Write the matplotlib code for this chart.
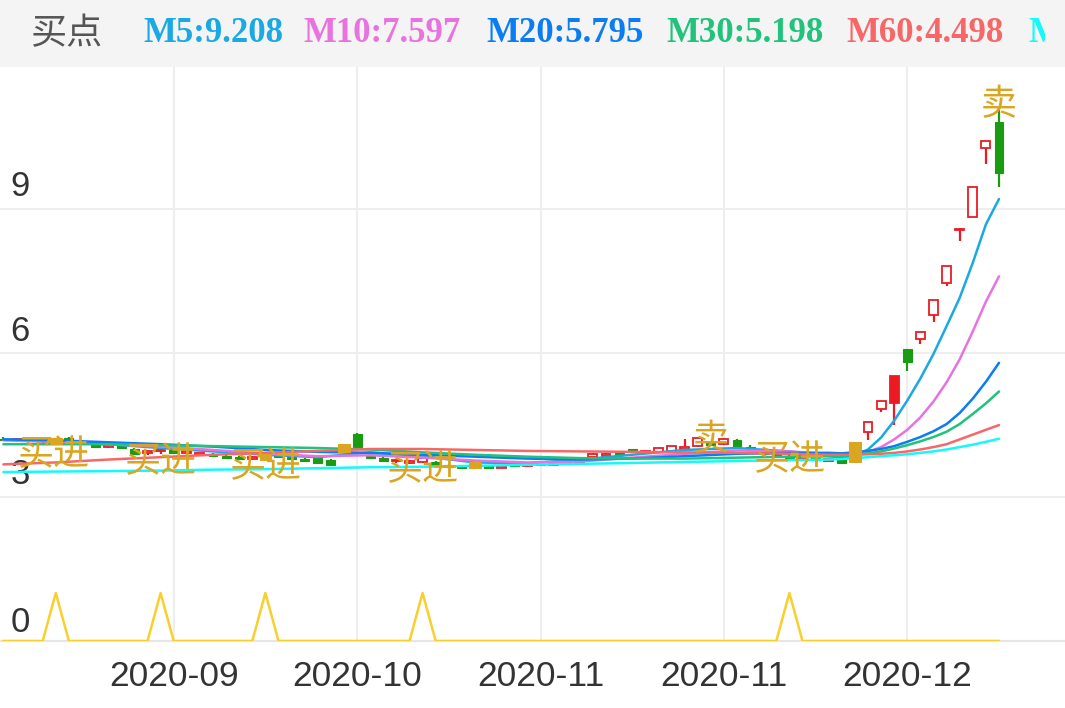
import matplotlib.pyplot as plt
from matplotlib.patches import Rectangle
from matplotlib.transforms import blended_transform_factory

plt.rcParams['font.family'] = ['Liberation Sans', 'Noto Sans CJK SC', 'DejaVu Sans']

# K线数据 (开, 高, 低, 收)
opens = [4.20, 4.18, 4.20, 4.17, 4.10, 4.22, 4.14, 4.12, 4.05, 4.08,
         4.00, 3.92, 3.95, 3.97, 3.92, 3.88, 3.90, 3.86, 3.84, 3.80,
         3.77, 3.90, 3.84, 3.80, 3.81, 3.77, 3.94, 4.31, 3.85, 3.82,
         3.74, 3.70, 3.73, 3.72, 3.66, 3.63, 3.60, 3.63, 3.61, 3.65,
         3.64, 3.67, 3.66, 3.69, 3.72, 3.83, 3.85, 3.90, 3.98, 3.92,
         3.94, 3.96, 4.00, 4.06, 4.12, 4.10, 4.18, 4.04, 3.98, 3.90,
         3.86, 3.82, 3.84, 3.76, 3.79, 3.73, 4.36, 4.84, 4.96, 6.08,
         6.30, 6.79, 7.45, 8.56, 8.83, 10.27, 10.81]
highs = [4.24, 4.22, 4.24, 4.21, 4.25, 4.24, 4.18, 4.14, 4.10, 4.10,
         4.02, 3.98, 4.00, 4.00, 3.96, 3.92, 3.92, 3.88, 3.86, 3.86,
         3.92, 3.92, 3.86, 3.82, 3.83, 3.79, 4.12, 4.33, 3.88, 3.84,
         3.78, 3.77, 3.83, 3.74, 3.68, 3.65, 3.75, 3.65, 3.66, 3.67,
         3.68, 3.69, 3.70, 3.74, 3.76, 3.91, 3.92, 3.93, 4.00, 3.96,
         4.03, 4.07, 4.20, 4.24, 4.14, 4.22, 4.20, 4.08, 4.00, 3.94,
         3.90, 3.86, 3.86, 3.79, 3.80, 4.15, 4.56, 5.01, 5.52, 6.08,
         6.44, 7.10, 7.82, 8.60, 9.46, 10.42, 11.10]
lows = [4.16, 4.14, 4.15, 4.12, 4.08, 4.12, 4.08, 4.02, 4.02, 4.00,
        3.88, 3.88, 3.90, 3.90, 3.88, 3.86, 3.85, 3.80, 3.78, 3.78,
        3.75, 3.82, 3.78, 3.72, 3.70, 3.66, 3.92, 4.02, 3.80, 3.72,
        3.70, 3.68, 3.70, 3.64, 3.60, 3.60, 3.58, 3.60, 3.60, 3.62,
        3.62, 3.64, 3.64, 3.67, 3.70, 3.81, 3.84, 3.86, 3.96, 3.90,
        3.93, 3.95, 3.98, 4.05, 4.06, 4.08, 4.02, 3.96, 3.88, 3.84,
        3.80, 3.78, 3.76, 3.74, 3.70, 3.73, 4.19, 4.78, 4.50, 5.62,
        6.19, 6.65, 7.40, 8.33, 8.83, 9.94, 9.46]
closes = [4.18, 4.20, 4.17, 4.19, 4.23, 4.14, 4.12, 4.04, 4.08, 4.02,
          3.90, 3.95, 3.97, 3.92, 3.94, 3.90, 3.86, 3.82, 3.80, 3.84,
          3.90, 3.84, 3.80, 3.74, 3.71, 3.67, 4.10, 4.04, 3.82, 3.74,
          3.76, 3.75, 3.81, 3.66, 3.62, 3.61, 3.73, 3.61, 3.65, 3.64,
          3.67, 3.66, 3.69, 3.72, 3.75, 3.90, 3.90, 3.88, 3.97, 3.95,
          4.02, 4.06, 4.04, 4.23, 4.08, 4.20, 4.04, 3.98, 3.90, 3.86,
          3.82, 3.84, 3.78, 3.77, 3.71, 4.15, 4.56, 5.01, 5.52, 5.81,
          6.44, 7.10, 7.82, 8.58, 9.46, 10.42, 9.75]
gold_days = [4, 20, 26, 36, 65]
solid_red_days = [68]

# 均线 (读图取点)
ma_idx = [0, 4, 8, 12, 16, 20, 24, 28, 32, 36, 40, 44, 48, 52, 56, 60, 63, 64,
          65, 66, 67, 68, 69, 70, 71, 72, 73, 74, 75, 76]
ma5 = [4.20, 4.15, 4.10, 4.02, 3.95, 3.88, 3.83, 3.93, 3.85, 3.72, 3.70, 3.78,
       3.88, 3.98, 4.02, 3.95, 3.85, 3.82,
       3.86, 3.99, 4.24, 4.59, 5.01, 5.47, 5.98, 6.56, 7.15, 7.88, 8.68, 9.208]
ma10 = [4.18, 4.15, 4.10, 4.05, 3.98, 3.90, 3.85, 3.87, 3.82, 3.76, 3.72, 3.74,
        3.82, 3.90, 3.97, 3.95, 3.90, 3.88,
        3.90, 3.94, 4.04, 4.20, 4.40, 4.66, 4.99, 5.39, 5.87, 6.45, 7.07, 7.597]
ma20 = [4.20, 4.18, 4.14, 4.10, 4.05, 3.98, 3.94, 3.92, 3.88, 3.84, 3.80, 3.78,
        3.80, 3.85, 3.90, 3.92, 3.92, 3.91,
        3.93, 3.96, 4.00, 4.06, 4.15, 4.25, 4.37, 4.52, 4.75, 5.05, 5.40, 5.795]
ma30 = [4.10, 4.10, 4.10, 4.08, 4.06, 4.04, 4.02, 3.99, 3.93, 3.88, 3.84, 3.81,
        3.80, 3.80, 3.82, 3.84, 3.85, 3.86,
        3.88, 3.91, 3.95, 4.01, 4.08, 4.16, 4.25, 4.36, 4.52, 4.73, 4.95, 5.198]
ma60 = [3.68, 3.72, 3.78, 3.83, 3.88, 3.92, 3.96, 4.00, 4.00, 3.98, 3.96, 3.95,
        3.94, 3.93, 3.92, 3.90, 3.88, 3.88,
        3.88, 3.89, 3.90, 3.92, 3.95, 3.99, 4.04, 4.10, 4.20, 4.30, 4.40, 4.498]
ma120 = [3.52, 3.53, 3.54, 3.55, 3.57, 3.58, 3.60, 3.62, 3.63, 3.65, 3.67, 3.69,
         3.71, 3.73, 3.75, 3.77, 3.78, 3.79,
         3.81, 3.83, 3.85, 3.87, 3.89, 3.92, 3.95, 3.99, 4.04, 4.09, 4.15, 4.213]

# 买点信号 (0/1)
buy_signal = [0, 0, 0, 0, 1, 0, 0, 0, 0, 0,
              0, 0, 1, 0, 0, 0, 0, 0, 0, 0,
              1, 0, 0, 0, 0, 0, 0, 0, 0, 0,
              0, 0, 1, 0, 0, 0, 0, 0, 0, 0,
              0, 0, 0, 0, 0, 0, 0, 0, 0, 0,
              0, 0, 0, 0, 0, 0, 0, 0, 0, 0,
              1, 0, 0, 0, 0, 0, 0, 0, 0, 0,
              0, 0, 0, 0, 0, 0, 0]

# 买卖标注 (位置, 价位)
buy_marks = [(3.8, 3.875), (12, 3.73), (20, 3.625), (32, 3.56), (60, 3.77)]
sell_marks = [(54, 4.19), (76, 11.16)]

tick_idx = [13, 27, 41, 55, 69]
tick_labels = ['2020-09', '2020-10', '2020-11', '2020-11', '2020-12']

ma_names = ['M5', 'M10', 'M20', 'M30', 'M60', 'M120']
ma_series = [ma5, ma10, ma20, ma30, ma60, ma120]
ma_colors = ['#1aa9e3', '#e873df', '#0b7df2', '#20c27c', '#f86767', '#14fafa']
header_x = [143, 303, 486, 666, 846, 1028]

RED = '#ec1b23'
GREEN = '#1a9c12'
GOLD = '#daa520'

W, H = 1065, 708
fig = plt.figure(figsize=(W / 100, H / 100), dpi=100)
ax = fig.add_axes([0, (H - 641) / H, 1, (641 - 67) / H])

# 头部灰条
fig.patches.append(Rectangle((0, (H - 67) / H), 1, 67 / H, transform=fig.transFigure,
                             facecolor='#f4f4f4', edgecolor='none', zorder=0))
fig.text(30 / W, 1 - 34 / H, '买点', fontsize=26, color='#555555', va='center', ha='left',
         family=['Noto Sans CJK SC', 'DejaVu Sans'])
head_clip = Rectangle((0, 0), 1045 / W, 1, transform=fig.transFigure, visible=False)
fig.patches.append(head_clip)
for name, ser, col, hx in zip(ma_names, ma_series, ma_colors, header_x):
    t = fig.text(hx / W, 1 - 34 / H, f'{name}:{ser[-1]:.3f}', fontsize=25, color=col,
                 fontweight='bold', family='Liberation Serif', va='center', ha='left')
    t.set_clip_path(head_clip)

# 蜡烛
bw = 0.68
for i in range(len(opens)):
    o, h, l, c = opens[i], highs[i], lows[i], closes[i]
    if i in gold_days:
        continue
    bottom, top = min(o, c), max(o, c)
    if top - bottom < 0.03:
        top = bottom + 0.03
    if c >= o:
        ax.vlines(i, l, h, color=RED, lw=1.6, zorder=2)
        face = RED if i in solid_red_days else 'white'
        ax.add_patch(Rectangle((i - bw / 2, bottom), bw, top - bottom, facecolor=face,
                               edgecolor=RED, lw=1.3, zorder=3))
    else:
        ax.vlines(i, l, h, color=GREEN, lw=1.6, zorder=2)
        ax.add_patch(Rectangle((i - bw / 2, bottom), bw, top - bottom, facecolor=GREEN,
                               edgecolor=GREEN, lw=0.8, zorder=3))

# 均线
for ser, col in zip(ma_series, ma_colors):
    ax.plot(ma_idx, ser, color=col, lw=1.8, zorder=4, solid_capstyle='round')

# 金色买点K线
for i in gold_days:
    bottom, top = min(opens[i], closes[i]), max(opens[i], closes[i])
    ax.add_patch(Rectangle((i - 0.45, bottom), 0.9, top - bottom, facecolor=GOLD,
                           edgecolor=GOLD, lw=0.8, zorder=5))

# 买点信号线
ax.plot(range(len(buy_signal)), buy_signal, color='#f9cf2d', lw=1.8, zorder=4)

for i, v in buy_marks:
    ax.text(i, v, '买进', color=GOLD, fontsize=26, ha='center', va='center', zorder=6,
            family=['Noto Sans CJK SC', 'DejaVu Sans'])
for i, v in sell_marks:
    ax.text(i, v, '卖', color=GOLD, fontsize=26, ha='center', va='center', zorder=6,
            family=['Noto Sans CJK SC', 'DejaVu Sans'])

ax.set_xlim(-3.4 / 13.1, (W - 3.4) / 13.1)
ax.set_ylim(0, 574 / 48)
ax.set_xticks(tick_idx)
ax.set_xticklabels(tick_labels, fontsize=25.5, color='#333333')
ax.set_yticks([3, 6, 9])
ax.set_yticklabels([])
ax.tick_params(axis='both', length=0)
ax.tick_params(axis='x', pad=14)
ax.grid(True, color='#eeeeee', lw=1.5, zorder=0)
ax.set_axisbelow(True)
for s in ['top', 'left', 'right']:
    ax.spines[s].set_visible(False)
ax.spines['bottom'].set_color('#e6e6e6')
ax.spines['bottom'].set_linewidth(1.5)

trans = blended_transform_factory(ax.transAxes, ax.transData)
for v, off in zip([0, 3, 6, 9], [0.38, 0.46, 0.45, 0.46]):
    ax.text(20 / W, v + off, str(v), transform=trans, fontsize=25, color='#333333',
            ha='center', va='center')

plt.savefig('out.png', dpi=100)
